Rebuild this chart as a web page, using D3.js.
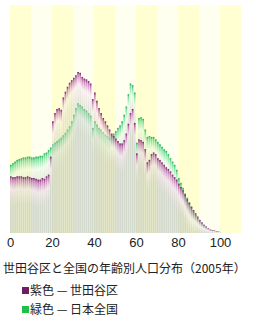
<!DOCTYPE html>
<meta charset="utf-8">
<style>
  body { margin: 0; background: #fff; }
  svg { display: block; }
  text { font-family: "Liberation Sans", Arial, sans-serif; fill: #222; }
  .jp { font-family: "Noto Sans CJK JP", sans-serif; }
</style>
<svg id="chart" width="260" height="322"></svg>
<script src="https://cdn.jsdelivr.net/npm/d3@7/dist/d3.min.js"></script>
<script>

// age in years, one bar each
var ages = d3.range(0, 101);

// share of population per age (%), Setagaya ward
var setagaya = [
  0.69, 0.68, 0.68, 0.69, 0.69, 0.69, 0.68, 0.68, 0.69, 0.68,
  0.67, 0.67, 0.66, 0.65, 0.65, 0.67, 0.66, 0.69, 0.71, 0.93,
  1.36, 1.46, 1.51, 1.52, 1.50, 1.65, 1.72, 1.78, 1.83, 1.86,
  1.89, 1.92, 1.96, 1.95, 1.90, 1.88, 1.87, 1.85, 1.82, 1.63,
  1.71, 1.61, 1.52, 1.46, 1.40, 1.36, 1.31, 1.26, 1.21, 1.18,
  1.15, 1.12, 1.09, 1.09, 1.13, 1.21, 1.33, 1.46, 1.51, 1.34,
  0.97, 1.14, 1.13, 1.11, 1.02, 0.86, 0.89, 0.96, 0.98, 0.96,
  0.91, 0.89, 0.86, 0.83, 0.80, 0.78, 0.75, 0.71, 0.68, 0.65,
  0.60, 0.56, 0.52, 0.47, 0.41, 0.37, 0.32, 0.28, 0.24, 0.20,
  0.16, 0.13, 0.10, 0.08, 0.06, 0.04, 0.03, 0.03, 0.02, 0.02,
  0.01
];

// share of population per age (%), all Japan
var japan = [
  0.83, 0.85, 0.87, 0.89, 0.90, 0.91, 0.92, 0.92, 0.93, 0.93,
  0.92, 0.92, 0.93, 0.93, 0.94, 0.94, 0.97, 0.98, 1.01, 1.04,
  1.08, 1.10, 1.12, 1.14, 1.16, 1.19, 1.22, 1.26, 1.30, 1.36,
  1.44, 1.52, 1.58, 1.56, 1.54, 1.51, 1.49, 1.46, 1.43, 1.28,
  1.36, 1.32, 1.28, 1.26, 1.23, 1.20, 1.18, 1.16, 1.19, 1.21,
  1.24, 1.28, 1.31, 1.36, 1.44, 1.54, 1.69, 1.82, 1.80, 1.71,
  1.10, 1.40, 1.41, 1.39, 1.26, 1.17, 1.18, 1.17, 1.17, 1.14,
  1.11, 1.08, 1.05, 1.02, 1.00, 0.96, 0.91, 0.87, 0.83, 0.77,
  0.67, 0.61, 0.55, 0.48, 0.43, 0.37, 0.32, 0.26, 0.22, 0.18,
  0.15, 0.12, 0.10, 0.07, 0.05, 0.04, 0.03, 0.02, 0.02, 0.01,
  0.01
];

var decades = [0, 10, 20, 30, 40, 50, 60, 70, 80, 90, 100];
var tickValues = [0, 20, 40, 60, 80, 100];

var caption = "世田谷区と全国の年齢別人口分布（2005年）";
var legendLabels = ["紫色 — 世田谷区", "緑色 — 日本全国"];
var legendColors = ["#6e1f63", "#1ec04a"];

var svg = d3.select("#chart");

var x = d3.scaleLinear().domain([0, 110]).range([10, 241]);
var y = d3.scaleLinear().domain([0, 2.8]).range([233, 3]);
var base = y(0);

// stripes behind the bars, one per decade
svg.append("g").selectAll("rect")
  .data(decades)
  .enter().append("rect")
    .attr("x", function(d) { return x(d); })
    .attr("y", 5)
    .attr("width", x(10) - x(0))
    .attr("height", base - 5)
    .attr("fill", function(d, i) { return i % 2 ? "#fffff0" : "#ffffd2"; });

var bodyColor = "#c4c9bf";
var bodyOpacity = 0.47;

var defs = svg.append("defs");
function fade(id, dark, mid, light) {
  var g = defs.append("linearGradient")
      .attr("id", id)
      .attr("x1", 0).attr("y1", 0).attr("x2", 0).attr("y2", 1);
  g.append("stop").attr("offset", 0).attr("stop-color", dark).attr("stop-opacity", 1);
  g.append("stop").attr("offset", 0.1).attr("stop-color", mid).attr("stop-opacity", 0.85);
  g.append("stop").attr("offset", 0.45).attr("stop-color", light).attr("stop-opacity", 0.6);
  g.append("stop").attr("offset", 1).attr("stop-color", bodyColor).attr("stop-opacity", bodyOpacity);
}
fade("fade-jp", "#22a850", "#5ad88a", "#e4f8e6");
fade("fade-sg", "#6e1f63", "#b860a8", "#f6e4f2");

var fadeH = 28;
var barW = 1.7;

function drawSeries(values, gradId) {
  var g = svg.append("g");
  var bars = g.selectAll("g")
    .data(ages)
    .enter().append("g");

  bars.append("rect")
      .attr("x", function(d) { return x(d); })
      .attr("y", function(d) { return y(values[d]); })
      .attr("width", barW)
      .attr("height", function(d) { return Math.min(fadeH, base - y(values[d])); })
      .attr("fill", "url(#" + gradId + ")");

  bars.append("rect")
      .attr("x", function(d) { return x(d); })
      .attr("y", function(d) { return Math.min(base, y(values[d]) + fadeH); })
      .attr("width", barW)
      .attr("height", function(d) { return Math.max(0, base - y(values[d]) - fadeH); })
      .attr("fill", bodyColor)
      .attr("fill-opacity", bodyOpacity);
}

drawSeries(japan, "fade-jp");
drawSeries(setagaya, "fade-sg");

// age axis, labels only
var axis = svg.append("g")
    .attr("transform", "translate(0," + (base + 2) + ")")
    .call(d3.axisBottom(x).tickValues(tickValues).tickSize(0).tickPadding(3));
axis.select(".domain").remove();
axis.selectAll("text")
    .attr("font-size", 13)
    .attr("font-family", "Liberation Sans, Arial, sans-serif")
    .attr("fill", "#222");

svg.append("text")
    .attr("class", "jp")
    .attr("x", 3)
    .attr("y", 273)
    .attr("font-size", 12)
    .text(caption);

var legend = svg.append("g").selectAll("g")
  .data(legendLabels)
  .enter().append("g")
    .attr("transform", function(d, i) { return "translate(22," + (290 + i * 19) + ")"; });

legend.append("rect")
    .attr("x", 0)
    .attr("y", -3)
    .attr("width", 7)
    .attr("height", 7)
    .attr("fill", function(d, i) { return legendColors[i]; });

legend.append("text")
    .attr("class", "jp")
    .attr("x", 8)
    .attr("y", 5)
    .attr("font-size", 12)
    .text(function(d) { return d; });

</script>
